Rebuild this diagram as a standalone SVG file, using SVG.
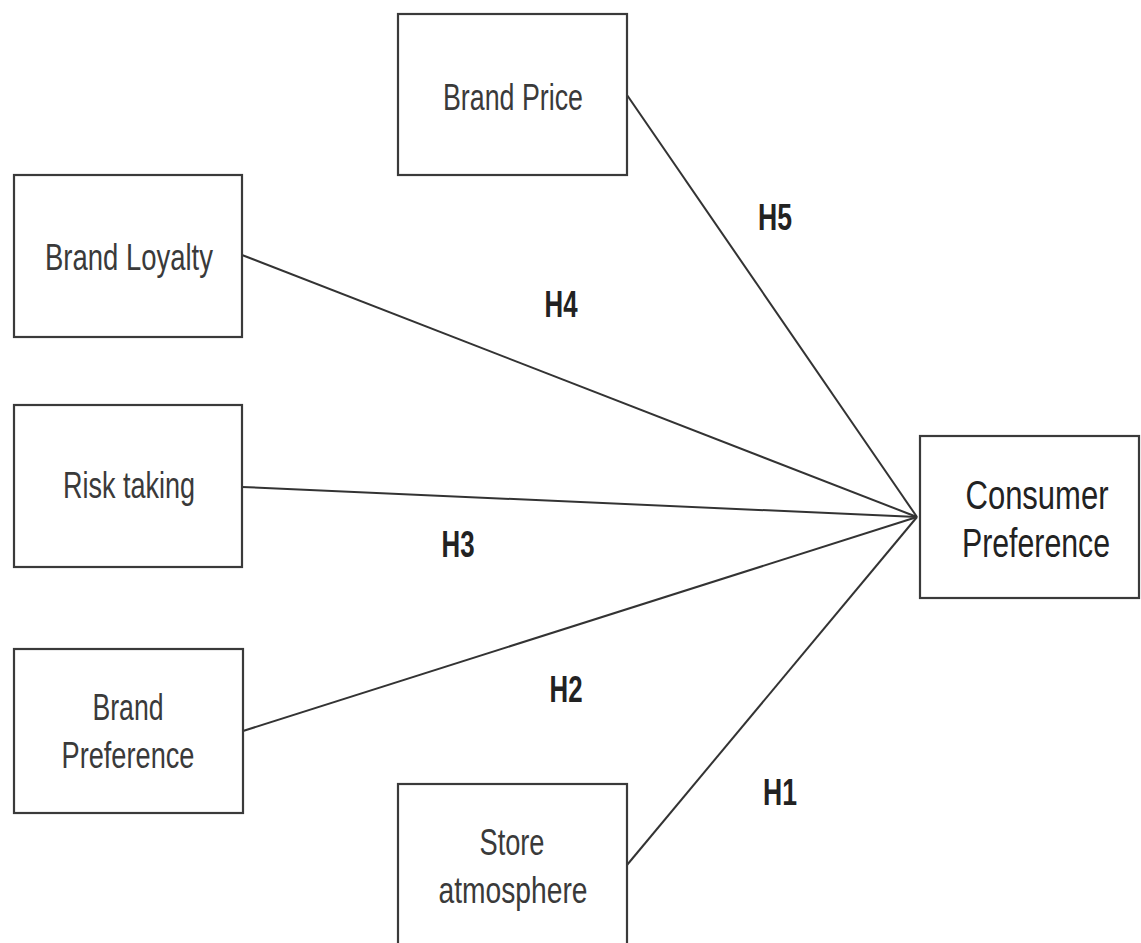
<svg xmlns="http://www.w3.org/2000/svg" width="1141" height="943" viewBox="0 0 1141 943">
<style>
.box{fill:#fff;stroke:#3a3a3a;stroke-width:2.2}
.lbl{font-family:"Liberation Sans",Arial,sans-serif;font-size:36px;fill:#3a3a3a;text-anchor:middle}
.cp{font-family:"Liberation Sans",Arial,sans-serif;font-size:40px;fill:#222;text-anchor:middle}
.h{font-family:"Liberation Sans",Arial,sans-serif;font-size:36px;fill:#222;text-anchor:middle;font-weight:bold}
.con{stroke:#333;stroke-width:2;fill:none}
</style>
<rect width="1141" height="943" fill="#fff"/>
<g id="connectors">
<line class="con" x1="627" y1="95" x2="917" y2="517"/>
<line class="con" x1="242" y1="255" x2="917" y2="517"/>
<line class="con" x1="242" y1="487" x2="917" y2="517"/>
<line class="con" x1="243" y1="731" x2="917" y2="517"/>
<line class="con" x1="627" y1="865" x2="917" y2="517"/>
<text class="h" x="775" y="230" textLength="34" lengthAdjust="spacingAndGlyphs">H5</text>
<text class="h" x="561" y="317" textLength="33" lengthAdjust="spacingAndGlyphs">H4</text>
<text class="h" x="458" y="557" textLength="33" lengthAdjust="spacingAndGlyphs">H3</text>
<text class="h" x="566" y="702" textLength="33" lengthAdjust="spacingAndGlyphs">H2</text>
<text class="h" x="780" y="805" textLength="34" lengthAdjust="spacingAndGlyphs">H1</text>
</g>
<g id="brand-price">
<rect class="box" x="398" y="14" width="229" height="161"/>
<text class="lbl" x="513" y="110" textLength="140" lengthAdjust="spacingAndGlyphs">Brand Price</text>
</g>
<g id="brand-loyalty">
<rect class="box" x="14" y="175" width="228" height="162"/>
<text class="lbl" x="129" y="270" textLength="168" lengthAdjust="spacingAndGlyphs">Brand Loyalty</text>
</g>
<g id="risk-taking">
<rect class="box" x="14" y="405" width="228" height="162"/>
<text class="lbl" x="129" y="498" textLength="132" lengthAdjust="spacingAndGlyphs">Risk taking</text>
</g>
<g id="brand-preference">
<rect class="box" x="14" y="649" width="229" height="164"/>
<text class="lbl" x="128" y="720" textLength="71" lengthAdjust="spacingAndGlyphs">Brand</text>
<text class="lbl" x="128" y="768" textLength="133" lengthAdjust="spacingAndGlyphs">Preference</text>
</g>
<g id="store-atmosphere">
<rect class="box" x="398" y="784" width="229" height="180"/>
<text class="lbl" x="512" y="855" textLength="65" lengthAdjust="spacingAndGlyphs">Store</text>
<text class="lbl" x="513" y="903" textLength="149" lengthAdjust="spacingAndGlyphs">atmosphere</text>
</g>
<g id="consumer-preference">
<rect class="box" x="920" y="436" width="219" height="162"/>
<text class="cp" x="1037" y="509" textLength="143" lengthAdjust="spacingAndGlyphs">Consumer</text>
<text class="cp" x="1036" y="557" textLength="148" lengthAdjust="spacingAndGlyphs">Preference</text>
</g>
</svg>
